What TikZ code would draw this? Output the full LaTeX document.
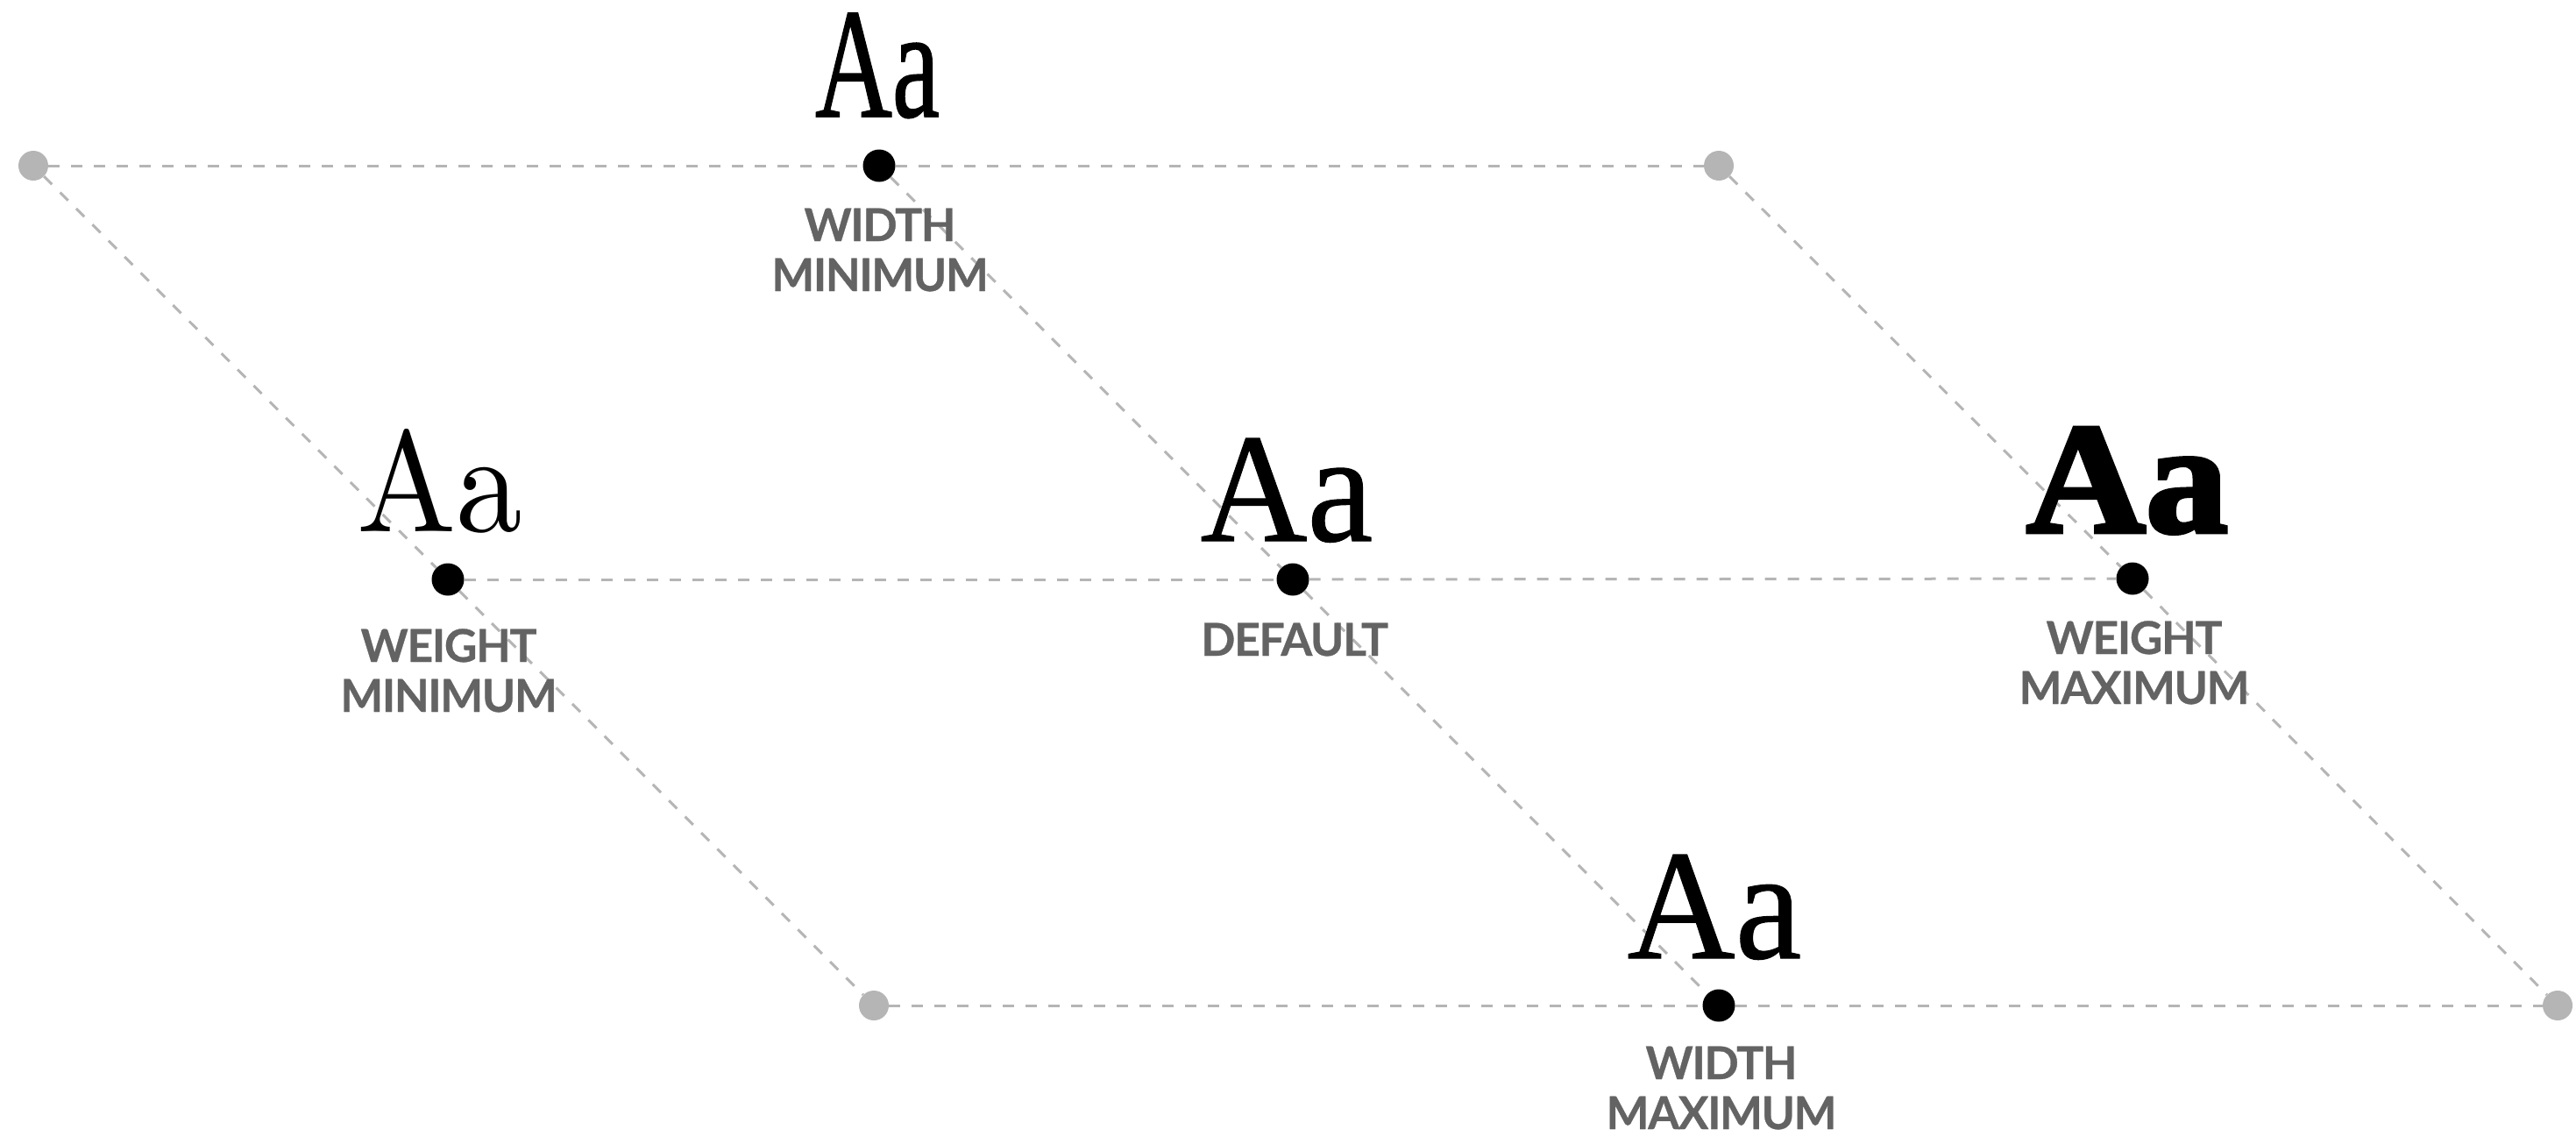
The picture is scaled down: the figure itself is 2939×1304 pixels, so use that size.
\documentclass[tikz,border=0pt]{standalone}
\usepackage{fontspec}
\usepackage{graphicx}
\setmainfont{Liberation Serif}
\newfontfamily\labfont{Lato}[LetterSpace=-2.5, FakeBold=0.6]
\newfontfamily\lightserif{Latin Modern Roman}
\newfontfamily\regserif{Liberation Serif}[FakeBold=0.6]
\newfontfamily\condserif{Liberation Serif}[FakeBold=1.0]
\newfontfamily\heavyserif{Liberation Serif}[FakeBold=2.6]
\definecolor{axisgray}{HTML}{B5B5B5}
\definecolor{labgray}{HTML}{636363}
\tikzset{
  axis/.style={draw=axisgray, line width=3pt, dash pattern=on 13pt off 13pt},
  gdot/.style={circle, fill=axisgray, minimum size=34pt, inner sep=0pt},
  bdot/.style={circle, fill=black, minimum size=37pt, inner sep=0pt},
  sample/.style={anchor=base, inner sep=0pt, outer sep=0pt},
  labeltext/.style={anchor=base, inner sep=0pt, align=center, text=labgray,
    font=\labfont\bfseries\fontsize{51.6}{57}\selectfont},
}
\begin{document}
\begin{tikzpicture}[x=1pt,y=-1pt]
\useasboundingbox (0,0) rectangle (2939,1304);
% corner points
\node[gdot] (g1) at (38,189) {};
\node[gdot] (g2) at (1961,189) {};
\node[gdot] (g3) at (997,1147) {};
\node[gdot] (g4) at (2918,1147) {};
% instances
\node[bdot] (wmin) at (1003,189) {};
\node[bdot] (lmin) at (511,661) {};
\node[bdot] (def) at (1475,661) {};
\node[bdot] (lmax) at (2433,660) {};
\node[bdot] (wmax) at (1961,1147) {};
% axes
\draw[axis] (g1) -- (wmin);
\draw[axis] (wmin) -- (g2);
\draw[axis] (lmin) -- (def);
\draw[axis] (def) -- (lmax);
\draw[axis] (g3) -- (wmax);
\draw[axis] (wmax) -- (g4);
\draw[axis] (g1) -- (lmin);
\draw[axis] (lmin) -- (g3);
\draw[axis] (wmin) -- (def);
\draw[axis] (def) -- (wmax);
\draw[axis] (g2) -- (lmax);
\draw[axis] (lmax) -- (g4);
% samples
\node[sample] (awmin) at (1001,133) {\resizebox{142pt}{118pt}{\condserif Aa}};
\node[sample] (almin) at (502,606) {\resizebox{189pt}{117pt}{\lightserif Aa}};
\node[sample] (adef) at (1468,617) {\resizebox{197pt}{117pt}{\regserif Aa}};
\node[sample] (almax) at (2427,607) {\resizebox{230pt}{119pt}{\heavyserif\bfseries Aa}};
\node[sample] (awmax) at (1956,1093) {\resizebox{199pt}{118pt}{\regserif Aa}};
% labels (base anchor = baseline of the last line)
\node[labeltext] (twmin) at (1004,332) {WIDTH\\MINIMUM};
\node[labeltext] (tlmin) at (512,812) {WEIGHT\\MINIMUM};
\node[labeltext] (tdef) at (1477,748) {DEFAULT};
\node[labeltext] (tlmax) at (2435,803) {WEIGHT\\MAXIMUM};
\node[labeltext] (twmax) at (1964,1288) {WIDTH\\MAXIMUM};
\end{tikzpicture}
\end{document}
